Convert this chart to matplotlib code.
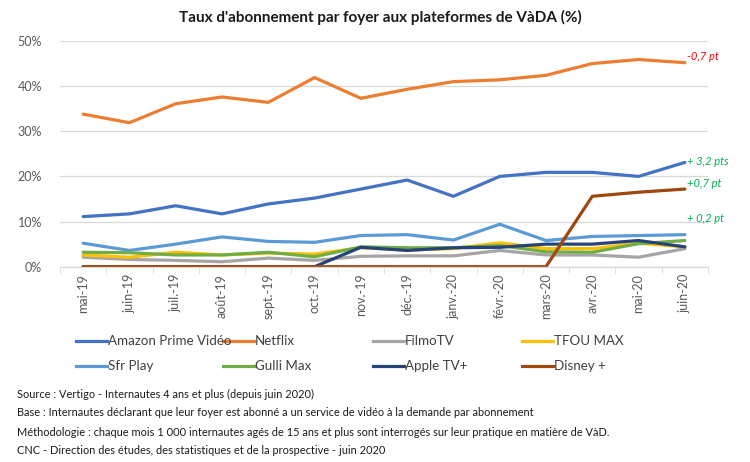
import matplotlib
matplotlib.use("Agg")
import matplotlib.pyplot as plt
import numpy as np
from matplotlib.lines import Line2D

plt.rcParams['font.family'] = ['Lato', 'DejaVu Sans']

months = ["mai-19", "juin-19", "juil.-19", "août-19", "sept.-19", "oct.-19", "nov.-19",
          "déc.-19", "janv.-20", "févr.-20", "mars-20", "avr.-20", "mai-20", "juin-20"]

amazon = [11.1, 11.7, 13.5, 11.7, 13.9, 15.2, 17.2, 19.2, 15.6, 20.0, 20.9, 20.9, 20.0, 23.1]
netflix = [33.8, 31.9, 36.1, 37.6, 36.4, 41.9, 37.3, 39.3, 41.0, 41.4, 42.4, 45.0, 45.9, 45.2]
filmotv = [2.1, 1.6, 1.4, 1.1, 1.9, 1.4, 2.3, 2.4, 2.4, 3.6, 2.6, 2.6, 2.1, 4.0]
tfou = [2.6, 2.1, 3.2, 2.6, 3.0, 2.8, 4.2, 3.7, 4.0, 5.3, 4.0, 4.0, 5.2, 4.4]
sfr = [5.2, 3.6, 5.0, 6.6, 5.6, 5.4, 6.9, 7.1, 5.9, 9.4, 5.8, 6.7, 6.9, 7.1]
gulli = [3.2, 3.1, 2.6, 2.6, 3.2, 2.2, 4.4, 4.2, 4.2, 4.7, 3.3, 3.2, 5.1, 5.8]
apple = [0, 0, 0, 0, 0, 0, 4.3, 3.6, 4.2, 4.3, 5.0, 5.0, 5.8, 4.4]
disney = [0, 0, 0, 0, 0, 0, 0, 0, 0, 0, 0, 15.6, 16.5, 17.2]

series_names = ["Amazon Prime Vidéo", "Netflix", "FilmoTV", "TFOU MAX",
                "Sfr Play", "Gulli Max", "Apple TV+", "Disney +"]
series_values = [amazon, netflix, filmotv, tfou, sfr, gulli, apple, disney]
colors = ["#4472C4", "#ED7D31", "#A5A5A5", "#FFC000", "#5B9BD5", "#70AD47", "#264478", "#9E480E"]

annotations = [("-0,7 pt", 46.6, "#FF0000"), ("+ 3,2 pts", 23.3, "#00B050"),
               ("+0,7 pt", 18.4, "#00B050"), ("+ 0,2 pt", 10.6, "#00B050")]

fig = plt.figure(figsize=(7.5, 4.62), dpi=100)
ax = fig.add_axes([0.08, 1 - 266.7 / 462, 0.864, (266.7 - 41) / 462])

x = np.arange(len(months))
for name, vals, c in zip(series_names, series_values, colors):
    ax.plot(x, np.array(vals) / 100, color=c, lw=2.3, solid_capstyle='round', label=name)

ax.set_xlim(-0.5, len(months) - 0.5)
ax.set_ylim(0, 0.5)
ax.set_yticks(np.arange(0, 0.51, 0.1))
ax.set_yticklabels([f"{int(round(v*100))}%" for v in np.arange(0, 0.51, 0.1)])
ax.yaxis.grid(True, color="#D9D9D9", lw=0.9)
ax.set_axisbelow(True)
ax.set_xticks(x)
ax.set_xticklabels(months, rotation=90)
ax.set_xticks(np.arange(-0.5, len(months), 1), minor=True)
ax.tick_params(axis='x', which='major', length=0, pad=5, labelsize=9, labelcolor="#595959")
ax.tick_params(axis='x', which='minor', length=5, color="#D9D9D9", direction='out')
ax.tick_params(axis='y', length=0, labelsize=9, labelcolor="#595959", pad=13)
for s in ["top", "right", "left"]:
    ax.spines[s].set_visible(False)
ax.spines["bottom"].set_color("#D9D9D9")
ax.spines["bottom"].set_linewidth(0.9)

for txt, yv, c in annotations:
    ax.text(len(months) - 1 + 0.05, yv / 100, txt, color=c, fontsize=8, style='italic',
            ha='left', va='center', clip_on=False)

fig.text(0.5 + 5 / 750, 1 - 17 / 462, "Taux d'abonnement par foyer aux plateformes de VàDA (%)",
         ha='center', va='center', fontsize=11, fontweight='bold', color="#1a1a1a")

# Legend (manual layout)
leg_pos = [(76, 341), (223, 341), (373, 341), (522, 341),
           (76, 366), (223, 366), (373, 366), (522, 366)]
for (px, py), name, c in zip(leg_pos, series_names, colors):
    fig.add_artist(Line2D([px / 750, (px + 31) / 750], [1 - py / 462, 1 - py / 462],
                          color=c, lw=2.3, transform=fig.transFigure))
    fig.text((px + 32) / 750, 1 - py / 462, name, fontsize=9.6, color="#404040",
             ha='left', va='center')

notes = ["Source : Vertigo - Internautes 4 ans et plus (depuis juin 2020)",
         "Base : Internautes déclarant que leur foyer est abonné a un service de vidéo à la demande par abonnement",
         "Méthodologie : chaque mois 1 000 internautes agés de 15 ans et plus sont interrogés sur leur pratique en matière de VàD.",
         "CNC - Direction des études, des statistiques et de la prospective - juin 2020"]
note_y = [394, 413, 433, 451]
for n, yy in zip(notes, note_y):
    fig.text(17 / 750, 1 - yy / 462, n, fontsize=7.95, color="#1a1a1a",
             ha='left', va='center')

fig.savefig("out.png", dpi=100)
